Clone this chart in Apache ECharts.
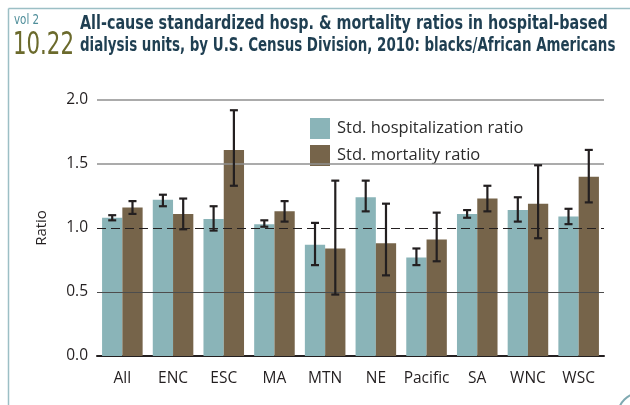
<!DOCTYPE html>
<html>
<head>
<meta charset="utf-8">
<script src="https://cdn.jsdelivr.net/npm/echarts@6/dist/echarts.min.js"></script>
<style>
  html, body { margin: 0; padding: 0; background: #fff; }
  #chart { width: 630px; height: 405px; }
</style>
</head>
<body>
<div id="chart"></div>
<script>
// census divisions
var categories = ['All', 'ENC', 'ESC', 'MA', 'MTN', 'NE', 'Pacific', 'SA', 'WNC', 'WSC'];

// std. hospitalization ratio + 95% CI
var hospRatio = [1.08, 1.22, 1.07, 1.03, 0.87, 1.24, 0.77, 1.11, 1.14, 1.09];
var hospLow   = [1.06, 1.17, 0.98, 1.01, 0.71, 1.13, 0.71, 1.08, 1.05, 1.03];
var hospHigh  = [1.10, 1.26, 1.17, 1.06, 1.04, 1.37, 0.84, 1.14, 1.24, 1.15];

// std. mortality ratio + 95% CI
var mortRatio = [1.16, 1.11, 1.61, 1.13, 0.84, 0.88, 0.91, 1.23, 1.19, 1.40];
var mortLow   = [1.11, 0.99, 1.33, 1.05, 0.48, 0.63, 0.74, 1.13, 0.92, 1.20];
var mortHigh  = [1.21, 1.23, 1.92, 1.21, 1.37, 1.19, 1.12, 1.33, 1.49, 1.61];

var titleLines = [
    'All-cause standardized hosp. & mortality ratios in hospital-based',
    'dialysis units, by U.S. Census Division, 2010: blacks/African Americans'
];

var chart = echarts.init(document.getElementById('chart'));

var barGapFrac = 0.2; // barCategoryGap
var condensed = '"DejaVu Sans Condensed", "Roboto", sans-serif';

// error bar data: [catIndex, low, high]
function ciData(low, high) {
    var out = [];
    for (var i = 0; i < low.length; i++) {
        out.push([i, low[i], high[i]]);
    }
    return out;
}

function errorBar(side) {
    // side: -1 left bar, +1 right bar
    return function (params, api) {
        var idx = api.value(0);
        var lo = api.coord([idx, api.value(1)]);
        var hi = api.coord([idx, api.value(2)]);
        var band = api.size([1, 0])[0];
        var x = lo[0] + side * band * (1 - barGapFrac) / 4;
        var cap = 4;
        var style = { stroke: '#231f20', lineWidth: 2.2 };
        return {
            type: 'group',
            children: [
                { type: 'line', shape: { x1: x, y1: hi[1], x2: x, y2: lo[1] }, style: style },
                { type: 'line', shape: { x1: x - cap, y1: hi[1], x2: x + cap, y2: hi[1] }, style: style },
                { type: 'line', shape: { x1: x - cap, y1: lo[1], x2: x + cap, y2: lo[1] }, style: style }
            ]
        };
    };
}

var gridLines = [
    { yAxis: 0.5, lineStyle: { color: '#4d4d4d', width: 1, type: 'solid' } },
    { yAxis: 1.0, lineStyle: { color: '#231f20', width: 1, type: [9, 5] } },
    { yAxis: 1.5, lineStyle: { color: '#8f8f8f', width: 1.6, type: 'solid' } },
    { yAxis: 2.0, lineStyle: { color: '#8f8f8f', width: 1.6, type: 'solid' } }
];

// squeezed text, the original uses a condensed face
function squeezed(text, x, y, size, sx, color, weight) {
    return {
        type: 'text',
        x: x,
        y: y,
        scaleX: sx,
        style: {
            text: text,
            fontFamily: condensed,
            fontSize: size,
            fontWeight: weight || 'normal',
            fill: color
        }
    };
}

var option = {
    animation: false,
    textStyle: { fontFamily: 'Open Sans' },
    legend: {
        orient: 'vertical',
        left: 305,
        top: 113,
        itemWidth: 20,
        itemHeight: 21,
        itemGap: 6,
        icon: 'rect',
        data: ['Std. hospitalization ratio', 'Std. mortality ratio'],
        textStyle: { fontSize: 16.5, color: '#2b2b2b', padding: [0, 0, 0, 2] }
    },
    grid: { left: 97, right: 26, top: 100, bottom: 49 },
    xAxis: {
        type: 'category',
        data: categories,
        axisLine: { lineStyle: { color: '#231f20', width: 2 } },
        axisTick: { show: false },
        axisLabel: { color: '#231f20', fontSize: 15.5, margin: 15, interval: 0 }
    },
    yAxis: {
        type: 'value',
        min: 0,
        max: 2,
        interval: 0.5,
        name: 'Ratio',
        nameLocation: 'middle',
        nameGap: 48,
        nameTextStyle: { color: '#231f20', fontSize: 15 },
        axisLine: { show: false },
        axisTick: { show: false },
        splitLine: { show: false },
        axisLabel: {
            color: '#231f20',
            fontSize: 15.5,
            margin: 9,
            formatter: function (v) { return v.toFixed(1); }
        }
    },
    series: [
        {
            name: 'gridlines',
            type: 'line',
            data: [],
            z: 1,
            silent: true,
            markLine: {
                silent: true,
                symbol: 'none',
                label: { show: false },
                data: gridLines
            }
        },
        {
            name: 'Std. hospitalization ratio',
            type: 'bar',
            data: hospRatio,
            barGap: '0%',
            barCategoryGap: (barGapFrac * 100) + '%',
            itemStyle: { color: '#8ab4b8' },
            z: 2
        },
        {
            name: 'Std. mortality ratio',
            type: 'bar',
            data: mortRatio,
            itemStyle: { color: '#76644a' },
            z: 2
        },
        {
            type: 'custom',
            renderItem: errorBar(-1),
            data: ciData(hospLow, hospHigh),
            encode: { x: 0, y: [1, 2] },
            z: 5,
            silent: true
        },
        {
            type: 'custom',
            renderItem: errorBar(1),
            data: ciData(mortLow, mortHigh),
            encode: { x: 0, y: [1, 2] },
            z: 5,
            silent: true
        }
    ],
    graphic: [
        // frame
        { type: 'line', shape: { x1: 8.5, y1: 8.5, x2: 630, y2: 8.5 }, style: { stroke: '#9cbfc5', lineWidth: 1.5 } },
        { type: 'line', shape: { x1: 8.5, y1: 8.5, x2: 8.5, y2: 405 }, style: { stroke: '#9cbfc5', lineWidth: 1.5 } },
        { type: 'arc', shape: { cx: 640, cy: 415, r: 22, startAngle: Math.PI, endAngle: Math.PI * 1.5 }, style: { stroke: '#7fa9b1', lineWidth: 2, fill: null } },
        // figure number + title
        squeezed('vol 2', 14, 13, 13.5, 0.85, '#4f8e9a'),
        squeezed('10.22', 13, 30, 32, 0.74, '#6b6a2c'),
        squeezed(titleLines[0], 80, 15, 19, 0.84, '#1f3f52', 'bold'),
        squeezed(titleLines[1], 80, 37, 19, 0.785, '#1f3f52', 'bold')
    ]
};

chart.setOption(option);
</script>
</body>
</html>
